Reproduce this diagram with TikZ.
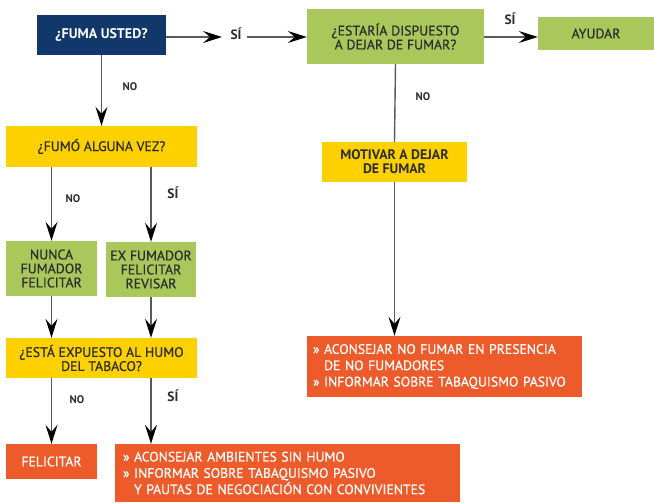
\documentclass[tikz,border=0pt]{standalone}
\usepackage{fontspec}
\setmainfont{PT Sans}
\newfontfamily\medfont{PT Sans}[FakeBold=0.6]
\usetikzlibrary{arrows.meta}
\definecolor{navy}{HTML}{12386B}
\definecolor{lgreen}{HTML}{A9C75A}
\definecolor{yel}{HTML}{FDD000}
\definecolor{orng}{HTML}{EE5B2B}
\definecolor{txt}{HTML}{2D2D2D}
\definecolor{ln}{HTML}{5A5A5A}
\tikzset{
  box/.style={inner sep=0pt, align=center, text=txt, font=\medfont\fontsize{13.8}{14}\selectfont},
  navybox/.style={box, fill=navy, text=white, font=\fontsize{14}{15}\selectfont\bfseries},
  greenbox/.style={box, fill=lgreen},
  yelbox/.style={box, fill=yel},
  orbox/.style={box, fill=orng, text=white, align=left, font=\medfont\fontsize{13.7}{16.3}\selectfont},
  lbl/.style={inner sep=0pt, text=txt, font=\fontsize{11}{12}\selectfont\bfseries},
  silbl/.style={inner sep=0pt, text=txt, font=\fontsize{13.5}{14}\selectfont\bfseries},
  conn/.style={draw=ln, line width=1.4pt},
  arr/.style={conn, -{Stealth[length=19pt,width=12pt,inset=7pt,color=black,fill=black]}}
}
\begin{document}
\begin{tikzpicture}[x=1pt,y=-1pt]
\useasboundingbox[fill=white] (0,0) rectangle (654,503);
% nodes
\node[navybox, minimum width=129pt, minimum height=40pt] (fuma) at (101.5,35) {¿FUMA USTED?};
\node[greenbox, minimum width=177pt, minimum height=55pt] (estaria) at (395.5,36.5) {¿ESTARÍA DISPUESTO\\A DEJAR DE FUMAR?};
\node[greenbox, minimum width=116pt, minimum height=33pt] (ayudar) at (596,33.5) {AYUDAR};
\node[yelbox, minimum width=145pt, minimum height=40pt, font=\fontsize{13.8}{14}\selectfont\bfseries] (motivar) at (394.5,162) {MOTIVAR A DEJAR\\DE FUMAR};
\node[orbox, minimum width=275pt, minimum height=61pt, text width=263pt, inner xsep=6pt] (ro) at (444.5,366.5) {» ACONSEJAR NO FUMAR EN PRESENCIA\\\hphantom{» }DE NO FUMADORES\\» INFORMAR SOBRE TABAQUISMO PASIVO};
\node[yelbox, minimum width=191pt, minimum height=41pt] (fumo) at (101.5,146.5) {¿FUMÓ ALGUNA VEZ?};
\node[greenbox, minimum width=91pt, minimum height=55pt] (nunca) at (51.5,268.5) {NUNCA\\FUMADOR\\FELICITAR};
\node[greenbox, minimum width=90pt, minimum height=55pt] (exfum) at (151,269.5) {EX FUMADOR\\FELICITAR\\REVISAR};
\node[yelbox, minimum width=191pt, minimum height=40pt] (expuesto) at (101.5,358) {¿ESTÁ EXPUESTO AL HUMO\\DEL TABACO?};
\node[orbox, minimum width=91pt, minimum height=35pt, align=center] (felic) at (51.5,461.5) {FELICITAR};
\node[orbox, minimum width=345pt, minimum height=58pt, text width=329pt, inner xsep=8pt] (bot) at (287.5,473) {» ACONSEJAR AMBIENTES SIN HUMO\\» INFORMAR SOBRE TABAQUISMO PASIVO\\\hphantom{» }Y PAUTAS DE NEGOCIACIÓN CON CONVIVIENTES};
% labels
\node[silbl] (s1) at (236,34) {SÍ};
\coordinate (s1l) at (222,37);
\coordinate (s1r) at (247,37);
\node[silbl] (s2) at (510,19) {SÍ};
\node[lbl] (n1) at (130,87) {NO};
\node[lbl] (n2) at (423,97) {NO};
\node[lbl] (n3) at (73,199) {NO};
\node[silbl] (s3) at (173,193) {SÍ};
\node[lbl] (n4) at (77,400) {NO};
\node[silbl] (s4) at (173,396) {SÍ};
% connectors
\draw[arr] (fuma.east |- s1l) -- (s1l);
\draw[arr] (s1r) -- (estaria.west |- s1r);
\draw[arr] (estaria.east |- s1r) -- (ayudar.west |- s1r);
\draw[conn] (estaria.south) -- (motivar.north);
\draw[arr] (motivar.south) -- (ro.north -| motivar);
\draw[arr] (fuma.south) -- (fumo.north);
\draw[arr] (fumo.south -| nunca) -- (nunca.north);
\draw[arr] (fumo.south -| exfum) -- (exfum.north);
\draw[arr] (nunca.south) -- (expuesto.north -| nunca);
\draw[arr] (exfum.south) -- (expuesto.north -| exfum);
\draw[arr] (expuesto.south -| felic) -- (felic.north);
\draw[arr] (expuesto.south -| exfum) -- (bot.north -| exfum);
\end{tikzpicture}
\end{document}
